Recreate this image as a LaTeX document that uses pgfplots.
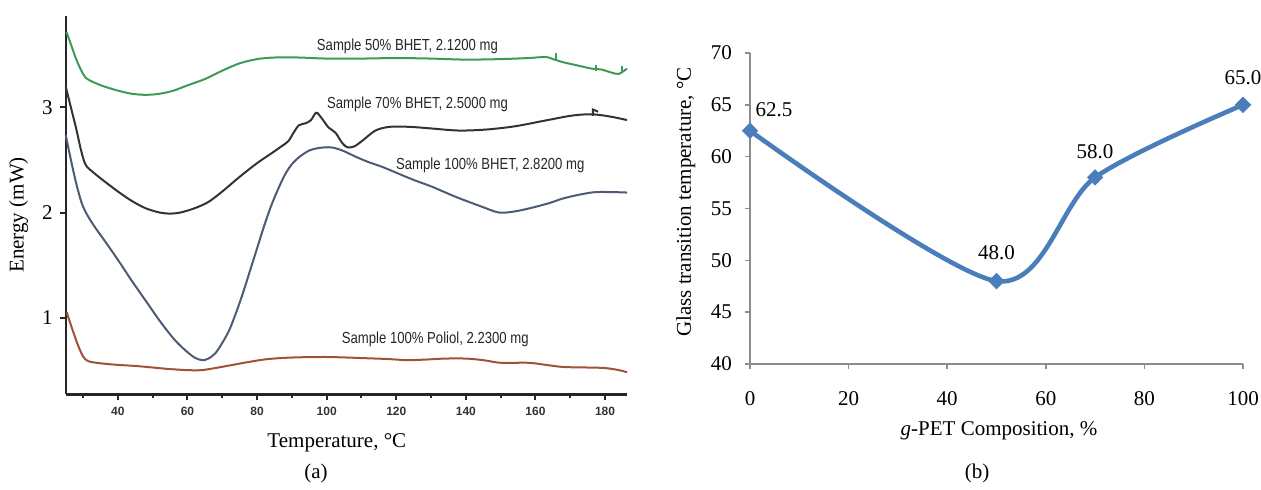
\documentclass[border=0pt]{standalone}
\usepackage{fontspec}
\setmainfont{Liberation Serif}
\newfontfamily\narrowsans[FakeStretch=0.82]{Liberation Sans}
\newfontfamily\boldsans{Liberation Sans}
\usepackage{pgfplots}
\pgfplotsset{compat=1.18}
\definecolor{cgreen}{HTML}{3E9A55}
\definecolor{cblack}{HTML}{333333}
\definecolor{cslate}{HTML}{4D5B75}
\definecolor{cbrown}{HTML}{9E5238}
\definecolor{cblue}{HTML}{4A7EBB}
\definecolor{caxis}{HTML}{8C8C8C}

\pgfplotstableread{
x y dx dy
0 62.5 12 10.5
50 48.0 0 14
70 58.0 0 13
100 65.0 0 13.5
}\tgtable

\begin{document}
\begin{tikzpicture}[x=1pt,y=1pt]
\useasboundingbox (0,0) rectangle (630.5,244.5);

% ---------------- panel (a)
\begin{axis}[
  at={(32.85pt,47.35pt)}, anchor=south west, scale only axis,
  width=280.65pt, height=189.15pt,
  xmin=25, xmax=186.3, ymin=0.27, ymax=3.87,
  axis x line*=bottom, axis y line*=left,
  axis line style={line width=1.2pt, black!85, -},
  tick style={line width=1pt, black!85},
  tick align=outside, major tick length=3pt, minor tick length=2pt,
  xtick={40,60,...,180}, minor xtick={30,50,...,170},
  ytick={1,2,3},
  /pgf/number format/assume math mode=true,
  xticklabel style={font=\boldsans\bfseries\fontsize{6}{7}\selectfont, black!80},
  yticklabel style={font=\fontsize{10.5}{12}\selectfont},
  xlabel={Temperature, °C}, ylabel={Energy (mW)},
  label style={font=\fontsize{10.5}{12}\selectfont},
  xlabel style={at={(axis description cs:0.483,-0.129)}, anchor=center},
  ylabel style={at={(axis description cs:-0.084,0.474)}, anchor=center},
  clip=false,
]
% 50% BHET
\addplot[cgreen, line width=1pt, smooth] coordinates {
(25.2,3.72) (26.5,3.60) (28,3.46) (29.5,3.35) (30.8,3.28) (33,3.24) (36,3.20)
(40,3.16) (44,3.13) (48,3.12) (52,3.13) (56,3.16) (60,3.21) (65,3.27) (70,3.35)
(75,3.42) (80,3.46) (85,3.475) (92,3.475) (100,3.465) (110,3.465) (120,3.47)
(130,3.465) (140,3.455) (150,3.46) (158,3.47) (163,3.48) (165,3.46) (168,3.43)
(172,3.40) (176,3.37) (179,3.36) (182,3.33) (184,3.32) (186.3,3.37)};
\addplot[cgreen, line width=1pt] coordinates {(166,3.45) (166,3.52)};
\addplot[cgreen, line width=1pt] coordinates {(177.3,3.35) (177.3,3.40)};
\addplot[cgreen, line width=1pt] coordinates {(185,3.33) (185,3.39)};
% 70% BHET
\addplot[cblack, line width=1pt, smooth] coordinates {
(25,3.20) (26.5,3.0) (28,2.80) (29.5,2.58) (30.8,2.45) (33,2.38) (36,2.30)
(40,2.20) (44,2.11) (48,2.04) (52,2.00) (55,1.99) (58,2.00) (62,2.04) (66,2.10)
(70,2.20) (75,2.34) (80,2.47) (84,2.56) (87,2.63) (89,2.68) (90.5,2.76) (92,2.83)
(94,2.85) (95.5,2.88) (97,2.95) (98.5,2.90) (100.5,2.81) (102.5,2.76) (104.5,2.66)
(106,2.62) (108,2.63) (110.5,2.69) (114,2.78) (118,2.815) (124,2.815) (130,2.80)
(138,2.78) (146,2.79) (154,2.82) (162,2.87) (170,2.92) (175,2.935) (178,2.93)
(182,2.91) (186.3,2.88)};
\addplot[cblack, line width=1pt] coordinates {(176.5,2.92) (176.5,2.98) (178,2.96)};
% 100% BHET
\addplot[cslate, line width=1pt, smooth] coordinates {
(25,2.74) (26.5,2.50) (28,2.28) (29.5,2.10) (30.8,2.00) (33,1.88) (36,1.74)
(40,1.55) (44,1.35) (48,1.16) (52,0.97) (56,0.80) (59,0.70) (62,0.62) (64.3,0.595)
(66,0.61) (68,0.66) (70,0.76) (72,0.88) (74,1.05) (76,1.24) (78,1.45) (80,1.66)
(82,1.87) (84,2.06) (86,2.22) (88,2.36) (90,2.46) (92.2,2.53) (95,2.59) (98,2.615)
(101.3,2.62) (104.5,2.59) (108.4,2.53)
(112,2.48) (115.9,2.435) (119.9,2.38) (125,2.31) (130.3,2.245) (137,2.15)
(144.6,2.055) (149.5,2.00) (154,2.01) (158.9,2.045) (164,2.09) (168.6,2.14)
(176,2.19) (181,2.195) (186.3,2.19)};
% 100% Poliol
\addplot[cbrown, line width=1pt, smooth] coordinates {
(25.3,1.05) (27,0.88) (28.5,0.74) (30,0.63) (31.5,0.585) (35,0.565) (40,0.55)
(45,0.54) (50,0.525) (55,0.51) (60,0.50) (64,0.50) (68,0.52) (73,0.55) (78,0.58)
(83,0.605) (90,0.62) (100,0.625) (110,0.615) (118,0.605) (123,0.595) (128,0.60)
(134,0.61) (140,0.61) (145,0.595) (150,0.57) (158,0.57) (163,0.55) (168,0.53)
(175,0.525) (180,0.52) (184,0.50) (186.3,0.48)};
\begin{scope}[every node/.style={font=\narrowsans\fontsize{8}{9}\selectfont, text=black!85}]
\node at (axis cs:123.2,3.58) {Sample 50\% BHET, 2.1200 mg};
\node at (axis cs:126.1,3.03) {Sample 70\% BHET, 2.5000 mg};
\node at (axis cs:147.0,2.45) {Sample 100\% BHET, 2.8200 mg};
\node at (axis cs:131.2,0.79) {Sample 100\% Poliol, 2.2300 mg};
\end{scope}
\end{axis}
\node[font=\fontsize{10.5}{12}\selectfont] at (158,8) {(a)};

% ---------------- panel (b)
\begin{axis}[
  at={(375pt,62.5pt)}, anchor=south west, scale only axis,
  width=246.5pt, height=155.5pt,
  xmin=0, xmax=100, ymin=40, ymax=70,
  axis x line*=bottom, axis y line*=left,
  axis line style={line width=0.8pt, caxis, -},
  tick style={line width=0.8pt, caxis},
  tick align=outside, major tick length=2.5pt,
  xtick={0,20,...,100}, ytick={40,45,...,70},
  /pgf/number format/assume math mode=true,
  ticklabel style={font=\fontsize{10.5}{12}\selectfont},
  xticklabel style={yshift=-7.5pt},
  yticklabel style={xshift=-3pt},
  xlabel={\textit{g}-PET Composition, \%},
  ylabel={Glass transition temperature, °C},
  label style={font=\fontsize{10.5}{12}\selectfont},
  xlabel style={at={(axis description cs:0.505,-0.215)}, anchor=center},
  ylabel style={at={(axis description cs:-0.130,0.521)}, anchor=center},
  clip=false,
]
\addplot[cblue, line width=2.3pt, smooth,
  mark=square*, mark size=2.65pt, mark options={rotate=45, solid, fill=cblue, draw=cblue, line width=0.5pt},
  nodes near coords={\pgfmathprintnumber[fixed, fixed zerofill, precision=1, assume math mode=true]{\pgfplotspointmeta}},
  point meta=y,
  visualization depends on={\thisrow{dx} \as \dx},
  visualization depends on={\thisrow{dy} \as \dy},
  every node near coord/.append style={anchor=center, xshift=\dx pt, yshift=\dy pt, font=\fontsize{10.5}{12}\selectfont, text=black},
] table[x=x, y=y] {\tgtable};
\end{axis}
\node[font=\fontsize{10.5}{12}\selectfont] at (488.5,8) {(b)};
\end{tikzpicture}
\end{document}
